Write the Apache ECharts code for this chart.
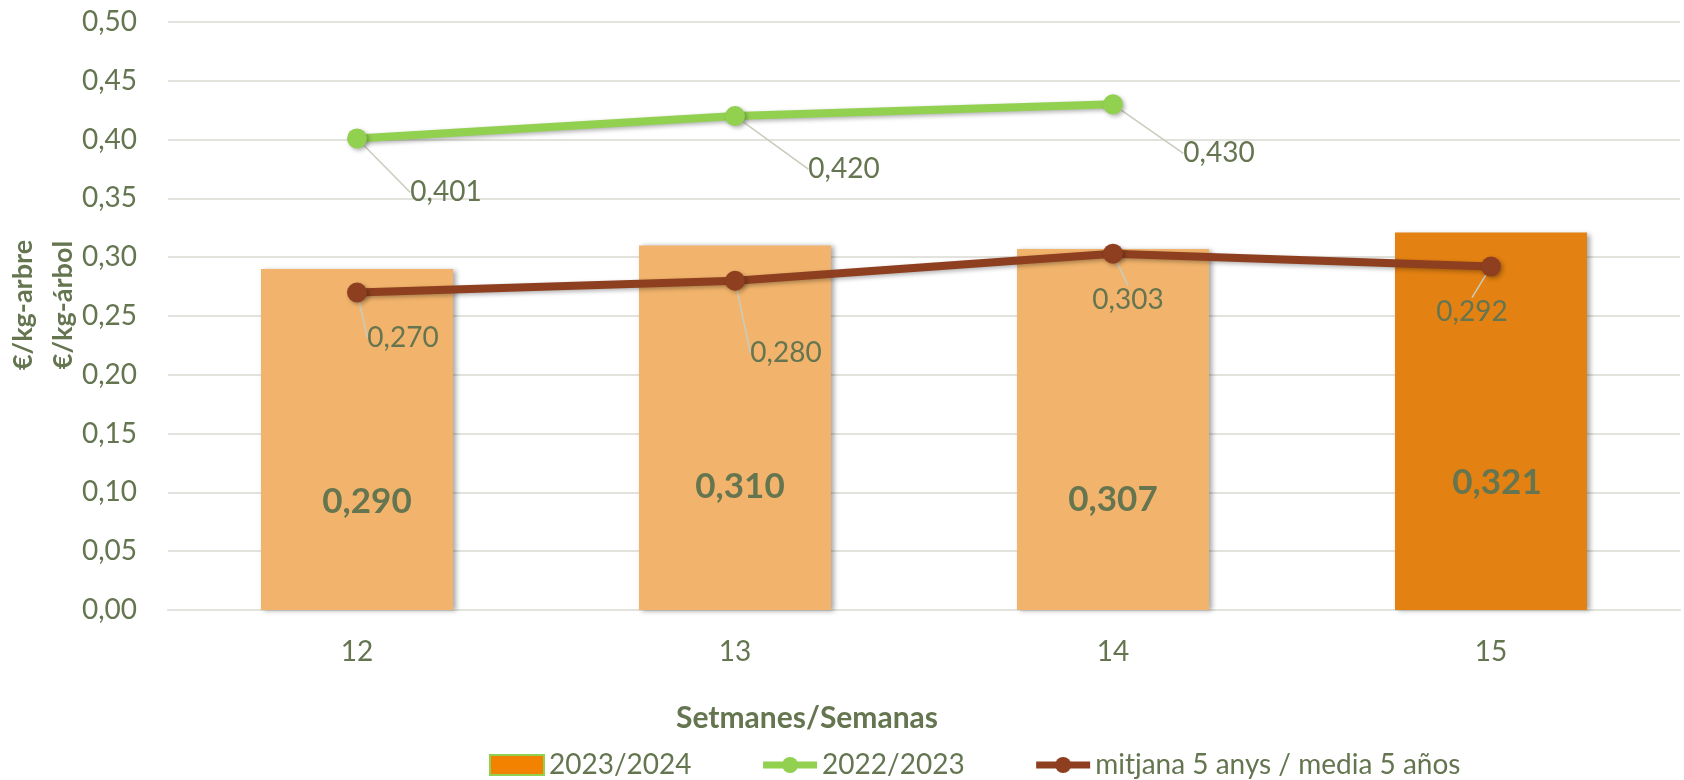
<!DOCTYPE html>
<html>
<head>
<meta charset="utf-8">
<script src="https://cdn.jsdelivr.net/npm/echarts@6/dist/echarts.min.js"></script>
<style>
html,body{margin:0;padding:0;background:#fff;}
#chart{width:1684px;height:780px;}
</style>
</head>
<body>
<div id="chart"></div>
<script>
// ---- data ----
const weeks = ['12', '13', '14', '15'];
const season2324 = [0.290, 0.310, 0.307, 0.321];
const season2223 = [0.401, 0.420, 0.430, null];
const avg5 = [0.270, 0.280, 0.303, 0.292];
const yTicks = [0, 0.5, 0.05];   // min, max, interval

// ---- styles ----
const txt = '#647550';
const font = 'Lato';
const barColors = ['#F2B46C', '#F2B46C', '#F2B46C', '#E38112'];
const barLabelOffsets = [[10, 62], [5, 59], [0, 70], [6, 61]];
const greenLabelShift = [[89, 54], [109, 53], [106, 49], [0, 0]];
const brownLabelShift = [[46, 45], [51, 72], [15, 46], [-19, 45]];

const fmt = v => v.toFixed(3).replace('.', ',');

const chart = echarts.init(document.getElementById('chart'), null, {renderer: 'canvas'});
const shadow = {shadowColor: 'rgba(0,0,0,0.3)', shadowBlur: 4, shadowOffsetX: 2, shadowOffsetY: 2};
const option = {
  backgroundColor: '#ffffff',
  animation: false,
  textStyle: {fontFamily: font, color: txt},
  grid: {left: 168, right: 4, top: 22, bottom: 170, containLabel: false, outerBoundsMode: 'none'},
  legend: {
    left: 484, top: 746,
    itemWidth: 54, itemHeight: 20, itemGap: 68,
    textStyle: {fontFamily: font, fontSize: 28, color: txt},
    data: [
      {name: '2023/2024', icon: 'rect', itemStyle: {color: '#F38200', borderColor: '#92D050', borderWidth: 2}},
      {name: '2022/2023', lineStyle: {width: 7, color: '#92D050'}},
      {name: 'mitjana 5 anys / media 5 años', lineStyle: {width: 7, color: '#8E3F1F'}}
    ]
  },
  xAxis: {
    type: 'category',
    data: weeks,
    axisTick: {show: false},
    axisLine: {show: true, lineStyle: {color: '#E3E3DD', width: 2}},
    axisLabel: {fontSize: 28, color: txt, fontFamily: font, margin: 28},
    name: 'Setmanes/Semanas',
    nameLocation: 'middle',
    nameGap: 93,
    nameMoveOverlap: false,
    nameTextStyle: {fontSize: 30, fontWeight: 'bold', color: txt, fontFamily: font, padding: [0, 234, 0, 0]}
  },
  yAxis: {
    type: 'value',
    min: yTicks[0], max: yTicks[1], interval: yTicks[2],
    axisLine: {show: false},
    axisTick: {show: false},
    splitLine: {lineStyle: {color: '#E3E3DD', width: 2}},
    axisLabel: {fontSize: 28, color: txt, fontFamily: font, margin: 31, formatter: v => v.toFixed(2).replace('.', ',')},
    name: '€/kg-arbre\n€/kg-árbol',
    nameLocation: 'middle',
    nameRotate: 90,
    nameGap: 85,
    nameMoveOverlap: false,
    nameTextStyle: {fontSize: 27, fontWeight: 'bold', color: txt, fontFamily: font, lineHeight: 40, padding: [0, 0, 0, 22]}
  },
  series: [
    {
      name: '2023/2024',
      type: 'bar',
      barWidth: 192,
      z: 1,
      data: season2324.map((v, i) => ({
        value: v,
        itemStyle: {color: barColors[i]},
        label: {offset: barLabelOffsets[i]}
      })),
      itemStyle: {shadowColor: 'rgba(0,0,0,0.35)', shadowBlur: 5, shadowOffsetX: 3, shadowOffsetY: 1},
      label: {
        show: true, position: 'inside',
        fontSize: 35, fontWeight: 'bold', color: txt, fontFamily: font,
        formatter: p => fmt(p.value)
      }
    },
    {
      name: '2022/2023',
      type: 'line',
      z: 3,
      data: season2223,
      color: '#92D050',
      symbol: 'circle', symbolSize: 20,
      lineStyle: Object.assign({width: 8, color: '#92D050'}, shadow),
      itemStyle: Object.assign({color: '#92D050'}, shadow),
      label: {
        show: true, position: 'inside',
        fontSize: 28, color: txt, fontFamily: font,
        formatter: p => p.value == null ? '' : fmt(p.value)
      },
      labelLine: {show: true, lineStyle: {color: '#C8CCBC', width: 1.5}},
      labelLayout: p => ({dx: greenLabelShift[p.dataIndex][0], dy: greenLabelShift[p.dataIndex][1]})
    },
    {
      name: 'mitjana 5 anys / media 5 años',
      type: 'line',
      z: 4,
      data: avg5,
      color: '#8E3F1F',
      symbol: 'circle', symbolSize: 20,
      lineStyle: Object.assign({width: 8, color: '#8E3F1F'}, shadow),
      itemStyle: Object.assign({color: '#8E3F1F'}, shadow),
      label: {
        show: true, position: 'inside',
        fontSize: 28, color: txt, fontFamily: font,
        formatter: p => fmt(p.value)
      },
      labelLine: {show: true, lineStyle: {color: '#C8CCBC', width: 1.5}},
      labelLayout: p => ({dx: brownLabelShift[p.dataIndex][0], dy: brownLabelShift[p.dataIndex][1]})
    }
  ]
};
chart.setOption(option);
</script>
</body>
</html>
